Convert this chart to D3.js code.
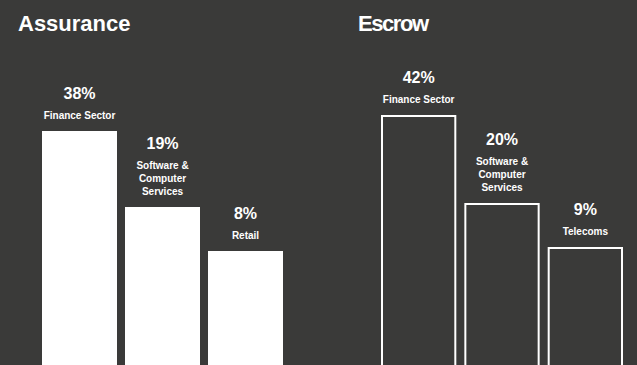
<!DOCTYPE html>
<html>
<head>
<meta charset="utf-8">
<script src="https://cdn.jsdelivr.net/npm/d3@7"></script>
<style>
  html, body { margin: 0; padding: 0; background: #3a3a39; }
  svg { display: block; }
  text { font-family: "Liberation Sans", Arial, Helvetica, sans-serif; fill: #ffffff; }
</style>
</head>
<body>
<svg id="chart" width="637" height="365"></svg>
<script>
const panelTitles = ["Assurance", "Escrow"];
const assuranceCategories = [["Finance Sector"], ["Software &", "Computer", "Services"], ["Retail"]];
const assuranceValues = [38, 19, 8];
const escrowCategories = [["Finance Sector"], ["Software &", "Computer", "Services"], ["Telecoms"]];
const escrowValues = [42, 20, 9];

const W = 637, H = 365;
const svg = d3.select("#chart");

svg.append("rect").attr("width", W).attr("height", H).attr("fill", "#3a3a39");

const y = d3.scaleLinear().domain([0, 50]).range([283, 83]);

const panels = [
  { title: panelTitles[0], cats: assuranceCategories, vals: assuranceValues, x0: 42, titleX: 18, filled: true, weight: 700 },
  { title: panelTitles[1], cats: escrowCategories, vals: escrowValues, x0: 381, titleX: 358, filled: false, weight: 700 }
];

panels.forEach(p => {
  const g = svg.append("g");
  g.append("text")
    .attr("x", p.titleX).attr("y", 31)
    .attr("font-size", 22).attr("font-weight", p.weight)
    .attr("textLength", p.filled ? null : 71)
    .text(p.title);

  const x = d3.scaleBand()
    .domain(d3.range(p.vals.length))
    .range([p.x0, p.x0 + 83 * 3 - 8 + (p.filled ? 0 : 1)])
    .paddingInner(8 / 83)
    .paddingOuter(0);

  const data = p.vals.map((v, i) => ({ v, i, cat: p.cats[i] }));

  const bars = g.selectAll(".bar").data(data).enter();
  if (p.filled) {
    bars.append("rect")
      .attr("x", d => x(d.i))
      .attr("y", d => y(d.v))
      .attr("width", x.bandwidth())
      .attr("height", d => H + 10 - y(d.v))
      .attr("fill", "#ffffff");
  } else {
    bars.append("rect")
      .attr("x", d => x(d.i) + 1)
      .attr("y", d => y(d.v) + 1)
      .attr("width", x.bandwidth() - 2)
      .attr("height", d => H + 10 - y(d.v))
      .attr("fill", "none")
      .attr("stroke", "#ffffff")
      .attr("stroke-width", 2);
  }

  data.forEach(d => {
    const cx = x(d.i) + x.bandwidth() / 2;
    const top = y(d.v);
    const n = d.cat.length;
    const lastBase = top - 12.5;
    d.cat.forEach((line, k) => {
      g.append("text")
        .attr("x", cx)
        .attr("y", lastBase - (n - 1 - k) * 12.8)
        .attr("text-anchor", "middle")
        .attr("font-size", 10)
        .attr("font-weight", 700)
        .attr("fill", "#f0f0f0")
        .text(line);
    });
    const firstBase = lastBase - (n - 1) * 12.8;
    g.append("text")
      .attr("x", cx)
      .attr("y", firstBase - 20)
      .attr("text-anchor", "middle")
      .attr("font-size", 16)
      .attr("font-weight", 700)
      .text(d.v + "%");
  });
});
</script>
</body>
</html>
